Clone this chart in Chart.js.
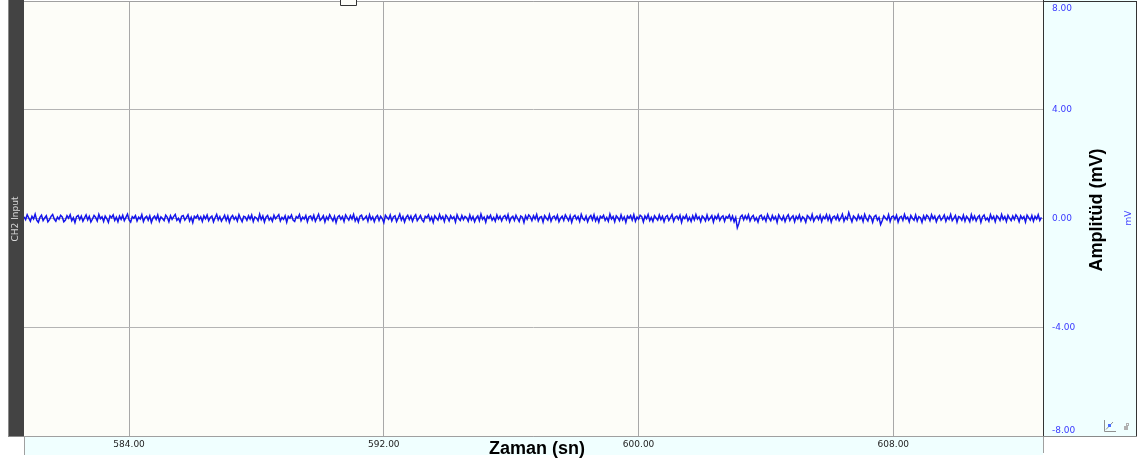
<!DOCTYPE html>
<html>
<head>
<meta charset="utf-8">
<script src="https://cdn.jsdelivr.net/npm/chart.js@4"></script>
<style>
  html, body { margin: 0; padding: 0; background: #ffffff; }
  #wrap { width: 1147px; height: 463px; }
</style>
</head>
<body>
<div id="wrap"><canvas id="myChart" width="1147" height="463"></canvas></div>
<script>
// chart data
const xMin = 580.7;
const xMax = 612.7;
const sampleStep = 0.05;
const xTicks = [584, 592, 600, 608];
const yTicks = [8, 4, 0, -4, -8];
const channelName = "CH2 Input";
const xTitle = "Zaman (sn)";
const yTitle = "Amplitüd (mV)";
const yUnit = "mV";

// CH2 amplitude (mV), one value every sampleStep seconds starting at xMin
const ch2Values = [
  0.06,-0.04,0.14,0.02,-0.10,0.08,-0.02,0.16,-0.06,-0.14,0.04,0.12,-0.08,0.02,0.10,-0.12,-0.04,0.08,0.15,-0.02,
  -0.10,0.05,-0.03,0.12,0.06,-0.12,-0.06,0.10,0.01,0.14,-0.08,0.03,-0.15,0.07,0.11,-0.04,0.09,-0.10,0.02,0.13,
  -0.05,0.08,-0.13,-0.02,0.11,0.04,-0.09,0.15,-0.01,0.06,-0.11,0.09,0.00,-0.14,0.10,0.03,0.13,-0.07,0.05,-0.12,
  0.09,-0.03,0.12,-0.08,0.04,0.16,-0.05,-0.13,0.07,0.01,0.11,-0.09,0.05,-0.02,0.14,-0.11,0.03,0.08,-0.06,0.10,
  -0.14,0.02,0.09,-0.04,0.13,-0.10,0.06,0.00,-0.08,0.12,0.04,-0.12,0.10,-0.03,0.07,0.15,-0.07,0.01,-0.13,0.08,
  0.11,-0.06,0.03,0.14,-0.09,0.05,-0.15,0.08,0.02,0.12,-0.04,0.06,-0.11,0.10,-0.01,0.13,-0.08,0.04,0.09,-0.12,
  0.03,0.15,-0.05,0.07,-0.10,0.01,0.12,-0.07,0.09,-0.14,0.04,0.11,-0.03,0.06,-0.09,0.14,0.00,-0.12,0.08,0.05,
  -0.07,0.10,-0.02,0.13,-0.11,0.06,0.02,-0.08,0.16,-0.04,0.09,-0.13,0.05,0.11,-0.06,0.03,-0.10,0.12,-0.01,0.07,
  0.14,-0.09,0.04,-0.03,0.10,-0.14,0.08,0.01,0.13,-0.06,-0.11,0.07,0.02,0.15,-0.08,0.05,-0.02,0.11,-0.12,0.06,
  0.09,-0.05,0.12,-0.10,0.03,0.16,-0.07,0.00,0.10,-0.13,0.06,-0.04,0.14,0.02,-0.09,0.08,-0.15,0.05,0.11,-0.03,
  0.07,-0.11,0.13,0.03,-0.06,0.10,-0.02,0.15,-0.09,0.04,-0.13,0.08,0.12,-0.05,0.01,0.09,-0.10,0.14,-0.04,0.06,
  -0.12,0.05,0.11,-0.07,0.08,0.00,-0.15,0.12,0.04,-0.03,0.13,-0.09,0.06,0.10,-0.11,0.02,0.16,-0.06,0.07,-0.13,
  0.04,0.12,-0.04,0.09,-0.10,0.06,0.14,-0.08,0.01,0.11,-0.05,-0.12,0.08,0.03,0.13,-0.07,0.05,-0.14,0.10,0.02,
  -0.06,0.15,-0.02,0.07,-0.11,0.12,0.04,-0.09,0.10,-0.01,0.06,-0.13,0.14,0.00,-0.07,0.11,-0.04,0.08,0.03,-0.10,
  0.13,-0.05,0.07,-0.12,0.02,0.10,-0.08,0.16,-0.03,0.05,-0.14,0.09,0.01,0.12,-0.06,0.04,-0.10,0.13,-0.02,0.08,
  -0.09,0.06,0.11,-0.04,0.14,-0.12,0.03,0.08,-0.07,0.12,0.00,-0.11,0.09,0.05,-0.15,0.10,-0.03,0.13,0.06,-0.08,
  0.10,-0.02,0.15,-0.09,0.04,0.07,-0.13,0.11,0.02,-0.06,0.14,-0.10,0.05,0.09,-0.04,0.12,-0.12,0.01,0.08,-0.07,
  0.13,0.03,-0.08,0.10,-0.14,0.06,0.12,-0.03,0.07,-0.11,0.15,0.00,-0.06,0.09,-0.12,0.04,0.11,-0.05,0.14,-0.09,
  0.05,-0.13,0.08,0.02,0.12,-0.07,0.04,-0.10,0.16,-0.02,0.07,-0.12,0.10,0.03,-0.08,0.13,-0.05,0.06,-0.14,0.09,
  0.01,0.11,-0.06,0.14,-0.10,0.05,-0.03,0.12,0.07,-0.13,0.09,-0.01,0.15,-0.08,0.04,-0.11,0.10,0.02,-0.06,0.13,
  -0.04,0.08,-0.12,0.06,0.11,-0.07,0.03,0.14,-0.10,0.05,0.09,-0.03,0.12,-0.14,0.07,0.00,0.13,-0.08,0.04,-0.11,
  0.10,-0.05,0.15,-0.02,0.06,-0.12,0.09,0.03,-0.09,0.13,-0.06,0.02,0.11,-0.13,0.08,-0.01,0.14,-0.07,0.05,0.10,
  -0.10,0.07,0.02,0.13,-0.06,0.09,-0.12,0.04,-0.34,-0.18,0.06,0.12,-0.05,0.10,-0.02,0.14,-0.09,0.05,0.11,-0.07,
  0.03,-0.13,0.08,0.12,-0.04,0.06,-0.10,0.15,0.01,-0.08,0.11,-0.03,0.07,-0.14,0.13,0.02,-0.06,0.09,-0.11,0.05,
  0.14,-0.07,0.04,0.10,-0.12,0.08,-0.02,0.13,-0.09,0.06,0.01,-0.14,0.11,0.05,-0.05,0.15,-0.10,0.03,0.09,-0.04,
  0.12,-0.11,0.07,-0.01,0.14,-0.06,0.10,-0.13,0.05,0.09,-0.04,0.12,-0.08,0.02,0.16,-0.10,0.06,-0.03,0.22,0.04,
  -0.12,0.09,0.03,-0.07,0.13,-0.02,0.08,-0.11,0.15,0.00,-0.09,0.11,0.05,-0.14,0.07,0.12,-0.06,0.04,-0.22,-0.08,
  0.10,0.02,-0.05,0.14,-0.11,0.06,0.09,-0.03,0.12,-0.13,0.04,0.08,-0.07,0.15,-0.02,0.05,-0.12,0.11,0.01,-0.06,
  0.13,-0.09,0.07,0.03,-0.14,0.10,-0.04,0.12,0.06,-0.08,0.14,-0.01,0.09,-0.12,0.04,0.11,-0.06,0.02,0.13,-0.10,
  0.06,-0.03,0.15,-0.08,0.01,0.11,-0.13,0.07,0.04,-0.06,0.12,-0.10,0.08,0.00,-0.12,0.14,-0.04,0.09,-0.09,0.05,
  0.11,-0.14,0.06,0.13,-0.05,0.02,-0.10,0.14,-0.02,0.08,-0.12,0.10,0.04,-0.07,0.15,-0.03,0.07,-0.11,0.12,0.01,
  -0.08,0.09,-0.04,0.13,0.05,-0.12,0.10,-0.01,0.07,-0.13,0.12,0.03,-0.06,0.11,-0.10,0.08,-0.02,0.14,-0.07,0.04
];

const points = ch2Values.map((v, i) => ({ x: xMin + i * sampleStep, y: v }));

// panels, labels and frame around the plot
const framePlugin = {
  id: "frame",
  beforeDraw(chart) {
    const ctx = chart.ctx;
    const a = chart.chartArea;
    ctx.save();
    ctx.fillStyle = "#ffffff";
    ctx.fillRect(0, 0, chart.width, chart.height);
    // plot background
    ctx.fillStyle = "#fdfdf8";
    ctx.fillRect(a.left, a.top, a.right - a.left, a.bottom - a.top);
    // right axis panel
    ctx.fillStyle = "#f0ffff";
    ctx.fillRect(a.right, 0, 94, a.bottom);
    // bottom axis strip
    ctx.fillRect(a.left, a.bottom, a.right - a.left, 19);
    // left channel bar
    ctx.fillStyle = "#434343";
    ctx.fillRect(8, 0, a.left - 8, a.bottom);
    ctx.restore();
  },
  afterDraw(chart) {
    const ctx = chart.ctx;
    const a = chart.chartArea;
    const xs = chart.scales.x;
    const ys = chart.scales.y;
    ctx.save();

    // frame lines
    ctx.lineWidth = 1;
    ctx.strokeStyle = "#a0a0a0";
    ctx.beginPath();
    ctx.moveTo(a.left, a.top + 0.5); ctx.lineTo(a.right, a.top + 0.5);
    ctx.moveTo(a.left, a.bottom + 0.5); ctx.lineTo(a.right, a.bottom + 0.5);
    ctx.moveTo(a.left + 0.5, a.bottom); ctx.lineTo(a.left + 0.5, a.bottom + 19);
    ctx.moveTo(a.right + 0.5, a.bottom); ctx.lineTo(a.right + 0.5, a.bottom + 17);
    ctx.stroke();
    ctx.strokeStyle = "#8a8a8a";
    ctx.beginPath();
    ctx.moveTo(8.5, 0); ctx.lineTo(8.5, a.bottom);
    ctx.moveTo(8, a.bottom + 0.5); ctx.lineTo(a.left, a.bottom + 0.5);
    ctx.moveTo(a.right, a.bottom + 0.5); ctx.lineTo(a.right + 94, a.bottom + 0.5);
    ctx.stroke();
    ctx.strokeStyle = "#333333";
    ctx.beginPath();
    ctx.moveTo(a.right + 0.5, 0); ctx.lineTo(a.right + 0.5, a.bottom);
    ctx.moveTo(a.right, 1.5); ctx.lineTo(a.right + 94, 1.5);
    ctx.moveTo(a.right + 93.5, 1); ctx.lineTo(a.right + 93.5, a.bottom);
    ctx.stroke();

    // cursor handle on the top edge
    ctx.fillStyle = "#fdfdf8";
    ctx.fillRect(340, 0, 16, 5);
    ctx.strokeStyle = "#333333";
    ctx.beginPath();
    ctx.moveTo(340.5, 0); ctx.lineTo(340.5, 5.5); ctx.lineTo(356.5, 5.5); ctx.lineTo(356.5, 0);
    ctx.stroke();

    // y tick labels
    ctx.font = "9px 'DejaVu Sans'";
    ctx.fillStyle = "#3a3aff";
    ctx.textAlign = "left";
    ctx.textBaseline = "middle";
    yTicks.forEach((v) => {
      let py = ys.getPixelForValue(v);
      py = Math.min(Math.max(py, a.top + 8), a.bottom - 5);
      ctx.fillText(v.toFixed(2), a.right + 9, py);
    });

    // x tick labels
    ctx.fillStyle = "#222222";
    ctx.textAlign = "center";
    xTicks.forEach((v) => {
      ctx.fillText(v.toFixed(2), xs.getPixelForValue(v), a.bottom + 9);
    });

    // axis titles
    ctx.fillStyle = "#000000";
    ctx.font = "bold 18px 'Liberation Sans'";
    ctx.fillText(xTitle, 537, a.bottom + 13);
    ctx.save();
    ctx.translate(1097, 210);
    ctx.rotate(-Math.PI / 2);
    ctx.fillText(yTitle, 0, 0);
    ctx.restore();

    // unit
    ctx.save();
    ctx.translate(1129, 218);
    ctx.rotate(-Math.PI / 2);
    ctx.font = "9px 'DejaVu Sans'";
    ctx.fillStyle = "#3a3aff";
    ctx.fillText(yUnit, 0, 0);
    ctx.restore();

    // channel name on the dark bar
    ctx.save();
    ctx.translate(16, 219);
    ctx.rotate(-Math.PI / 2);
    ctx.font = "9px 'DejaVu Sans'";
    ctx.fillStyle = "#d8d8d8";
    ctx.fillText(channelName, 0, 0);
    ctx.restore();

    // small icons in the panel corner
    ctx.strokeStyle = "#909090";
    ctx.beginPath();
    ctx.moveTo(1104.5, 420); ctx.lineTo(1104.5, 431.5); ctx.lineTo(1116, 431.5);
    ctx.moveTo(1106, 429.5); ctx.lineTo(1113, 422);
    ctx.stroke();
    ctx.fillStyle = "#4a6cff";
    ctx.fillRect(1108, 424, 3, 3);
    ctx.fillStyle = "#b0b0b0";
    ctx.fillRect(1124, 426, 4, 4);
    ctx.strokeStyle = "#b0b0b0";
    ctx.strokeRect(1126.5, 423.5, 2, 2);

    ctx.restore();
  },
};

const config = {
  type: "line",
  data: {
    datasets: [
      {
        label: channelName,
        data: points,
        borderColor: "rgb(20, 20, 235)",
        borderWidth: 1.5,
        pointRadius: 0,
        tension: 0,
        fill: false,
      },
    ],
  },
  options: {
    responsive: false,
    animation: false,
    layout: { padding: { left: 24, top: 1, right: 104, bottom: 27 } },
    plugins: { legend: { display: false }, tooltip: { enabled: false } },
    scales: {
      x: {
        type: "linear",
        min: xMin,
        max: xMax,
        afterBuildTicks: (axis) => {
          axis.ticks = xTicks.map((v) => ({ value: v }));
        },
        ticks: { display: false },
        grid: { color: "#a8a8a8", drawTicks: false },
        border: { display: false },
      },
      y: {
        position: "right",
        min: -8,
        max: 8,
        afterBuildTicks: (axis) => {
          axis.ticks = yTicks.map((v) => ({ value: v }));
        },
        ticks: { display: false },
        grid: { color: "#b4b4b4", drawTicks: false },
        border: { display: false },
      },
    },
  },
  plugins: [framePlugin],
};

const myChart = new Chart(document.getElementById("myChart"), config);
</script>
</body>
</html>
